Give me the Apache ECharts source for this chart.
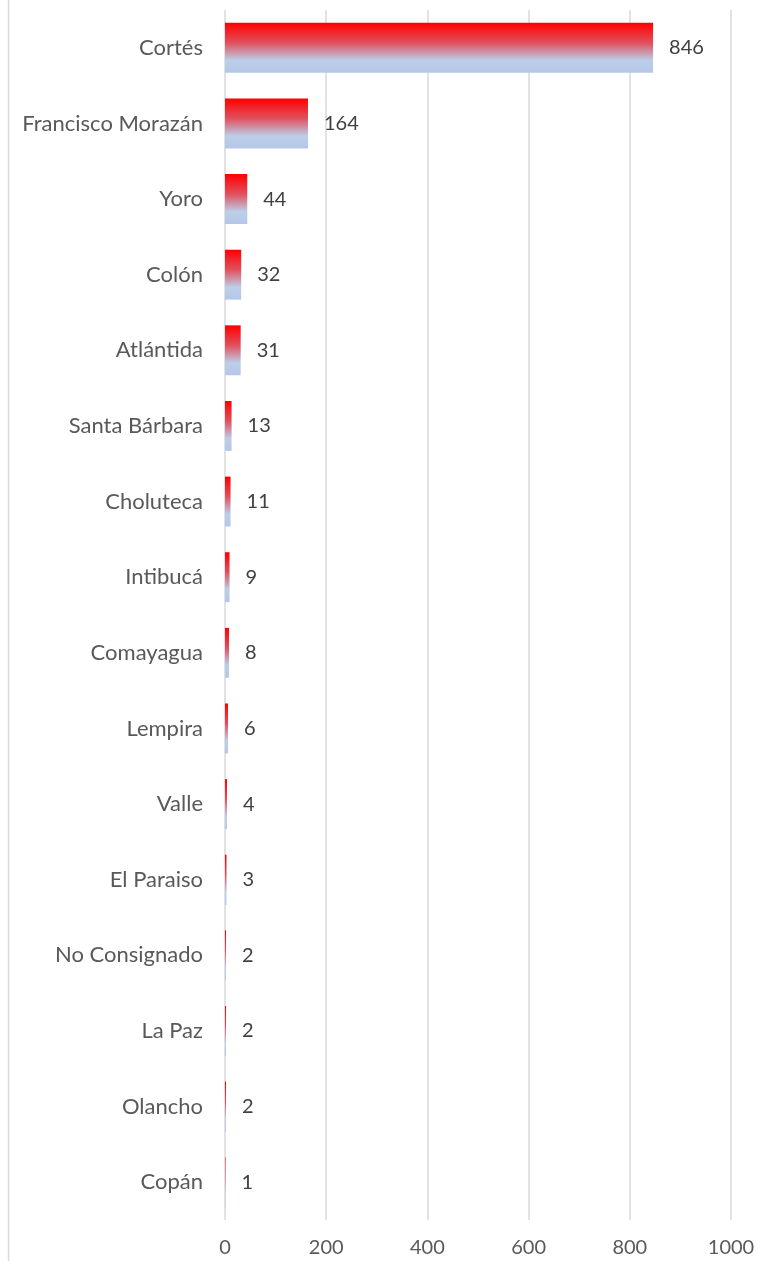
<!DOCTYPE html>
<html><head><meta charset="utf-8">
<script src="https://cdn.jsdelivr.net/npm/echarts@6/dist/echarts.min.js"></script>
<style>html,body{margin:0;padding:0;background:#fff}#c{width:758px;height:1261px}</style>
</head><body><div id="c"></div>
<script>
const categories = ["Cortés","Francisco Morazán","Yoro","Colón","Atlántida","Santa Bárbara","Choluteca","Intibucá","Comayagua","Lempira","Valle","El Paraiso","No Consignado","La Paz","Olancho","Copán"];
const values = [846,164,44,32,31,13,11,9,8,6,4,3,2,2,2,1];
const xTicks = {min:0, max:1000, interval:200};
const FONT = 'Lato, "Open Sans", sans-serif';
const chart = echarts.init(document.getElementById('c'));
chart.setOption({
  animation:false,
  backgroundColor:'#fff',
  grid:{left:225,right:27,top:10,bottom:41,containLabel:false},
  xAxis:{type:'value',min:xTicks.min,max:xTicks.max,interval:xTicks.interval,
    axisLine:{show:false},axisTick:{show:false},
    axisLabel:{color:'#595959',fontSize:20,fontFamily:FONT,margin:18,formatter:v=>String(v)},
    splitLine:{lineStyle:{color:'#d9d9d9',width:1.5}}},
  yAxis:{type:'category',data:categories,inverse:true,
    axisLine:{show:false},axisTick:{show:false},
    axisLabel:{color:'#595959',fontSize:22,fontFamily:FONT,margin:22}},
  series:[{type:'bar',data:values,barCategoryGap:'34%',
    itemStyle:{color:new echarts.graphic.LinearGradient(0,0,0,1,[
      {offset:0,color:'#ff0000'},{offset:0.4,color:'#e0505e'},{offset:0.75,color:'#bccee8'},{offset:1,color:'#b4c7e7'}])},
    label:{show:true,position:'right',distance:16,color:'#404040',fontSize:20,fontFamily:FONT}}],
  graphic:[{type:'line',shape:{x1:8.5,y1:0,x2:8.5,y2:1261},style:{stroke:'#d9d9d9',lineWidth:1.5}}]
});
</script></body></html>
